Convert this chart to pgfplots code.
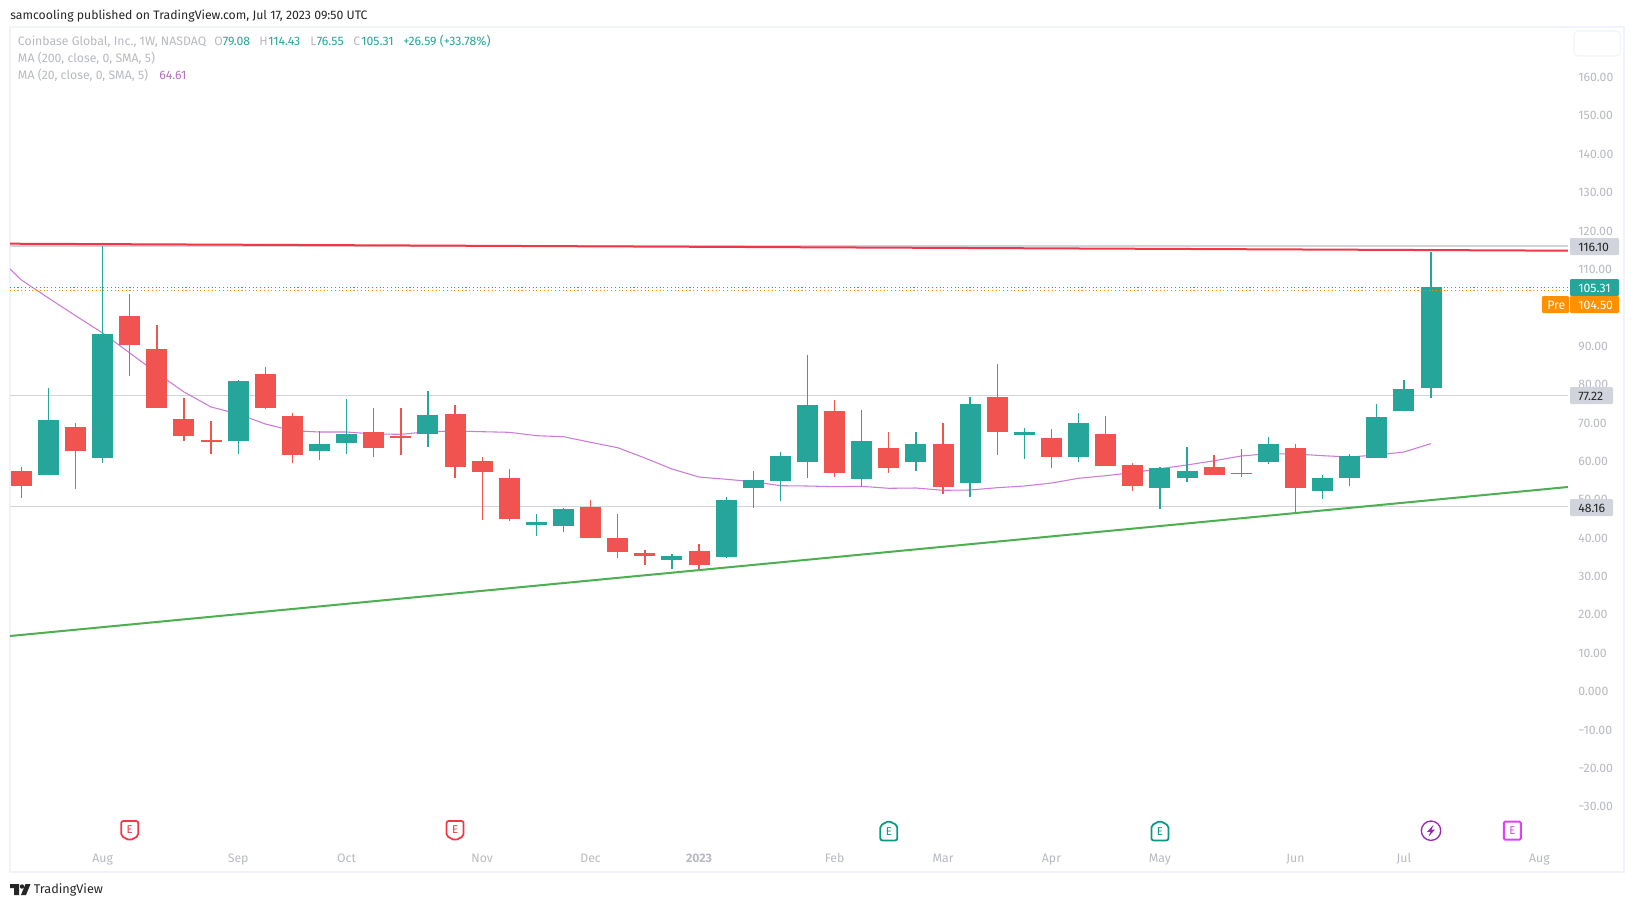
\documentclass[border=0pt]{standalone}
\usepackage{fontspec}
\setmainfont{Fira Sans}
\usepackage{pgfplots}
\usepackage{pgfplotstable}
\pgfplotsset{compat=1.18}

\definecolor{tvgreen}{HTML}{26A69A}
\definecolor{tvred}{HTML}{F05350}
\definecolor{tvtext}{HTML}{B8BAC3}
\definecolor{tvtag}{HTML}{D1D4DC}
\definecolor{tvframe}{HTML}{F0F3FA}
\definecolor{tvma}{HTML}{CB7BD8}
\definecolor{tvorange}{HTML}{FF9000}
\definecolor{trendred}{HTML}{F23645}
\definecolor{trendgreen}{HTML}{4CAF50}
\definecolor{evgreen}{HTML}{089981}
\definecolor{evpink}{HTML}{E040FB}
\definecolor{evpurple}{HTML}{9C27B0}

% i bot top lo hi
\pgfplotstableread{
i bot top lo hi
1 56.43 70.76 56.43 79.10
3 60.86 93.17 59.55 116.10
8 65.28 80.92 61.90 81.18
11 62.68 64.51 60.34 67.89
12 64.77 67.11 61.90 76.23
15 67.11 72.06 63.72 78.32
19 43.40 44.18 40.54 46.27
20 43.14 47.57 41.58 47.83
24 34.28 35.32 31.94 35.84
26 35.06 49.91 34.80 50.69
27 53.04 55.13 47.83 57.47
28 54.87 61.38 49.65 62.42
29 59.82 74.67 55.64 87.70
31 55.39 65.28 53.56 73.36
33 59.82 64.51 57.47 67.63
35 54.34 74.93 50.69 76.75
37 66.85 67.63 60.60 68.67
39 61.12 69.98 59.82 72.58
42 53.04 58.25 47.57 58.51
43 55.64 57.47 54.60 63.72
45 56.69 56.95 55.91 63.20
46 59.82 64.51 59.30 66.33
48 52.26 55.64 50.18 56.43
49 55.64 61.38 53.56 61.90
50 60.86 71.54 60.86 74.93
51 73.10 78.84 73.10 81.18
52 79.08 105.31 76.55 114.43
}\upweeks
\pgfplotstableread{
i bot top lo hi
0 53.56 57.47 50.51 58.51
2 62.68 68.93 52.86 69.98
4 90.30 97.86 82.22 103.59
5 73.89 89.26 73.89 95.51
6 66.59 71.02 65.28 76.49
7 65.03 65.55 61.90 70.50
9 73.89 82.75 73.63 84.57
10 61.64 71.80 59.55 72.58
13 63.46 67.63 61.12 73.89
14 66.07 66.59 61.64 73.89
16 58.51 72.32 55.64 74.67
17 57.21 60.08 44.70 61.12
18 44.97 55.64 44.44 57.99
21 40.01 48.09 40.01 49.91
22 36.37 40.01 34.80 46.27
23 35.32 36.11 32.98 36.89
25 32.98 36.63 31.68 38.45
30 56.95 73.10 55.91 75.97
32 58.25 63.46 56.95 67.63
34 53.30 64.51 51.48 69.98
36 67.63 76.75 61.64 85.35
38 61.12 66.07 58.25 68.41
40 58.77 67.11 58.77 71.80
41 53.56 59.03 52.26 59.55
44 56.43 58.51 56.43 61.64
47 53.04 63.46 46.53 64.51
}\downweeks
\pgfplotstableread{
i ma
-0.417 110.10
0 107.24
1 102.55
2 97.94
3 93.43
4 88.22
5 83.01
6 78.06
7 74.15
8 72.32
9 69.72
10 67.97
11 67.63
12 67.63
13 67.11
14 67.03
15 67.71
16 67.89
17 67.71
18 67.55
19 66.67
20 66.41
21 64.95
22 63.54
23 60.86
24 57.99
25 55.91
26 55.31
27 54.69
28 53.64
29 53.56
30 53.38
31 53.48
32 52.96
33 53.04
34 52.44
35 52.52
36 53.12
37 53.56
38 54.34
39 55.57
40 56.25
41 57.03
42 58.07
43 59.03
44 60.15
45 61.38
46 61.98
47 61.90
48 61.46
49 61.12
50 61.64
51 62.42
52 64.61
}\maline

\newsavebox\evredbox
\newsavebox\evgreenbox
\newsavebox\evpinkbox
\newsavebox\evboltbox

\begin{document}
\sbox\evredbox{\tikz[x=0.75pt,y=-0.75pt]{
  \path (-10.5,-10.5) rectangle (10.5,10.5);
  \draw[trendred,line width=1.3pt,rounded corners=1.5pt,line join=round] (-8.5,-9.5) -- (8.5,-9.5) -- (8.5,5.5) -- (0,10) -- (-8.5,5.5) -- cycle;
  \node[trendred,font=\fontsize{8.5}{9}\selectfont,inner sep=0pt] at (0,-1) {E};}}%
\sbox\evgreenbox{\tikz[x=0.75pt,y=-0.75pt]{
  \path (-10.5,-10.5) rectangle (10.5,10.5);
  \draw[evgreen,line width=1.3pt,rounded corners=1.5pt,line join=round] (-8.5,9.5) -- (8.5,9.5) -- (8.5,-5.5) -- (0,-10) -- (-8.5,-5.5) -- cycle;
  \node[evgreen,font=\fontsize{8.5}{9}\selectfont,inner sep=0pt] at (0,1) {E};}}%
\sbox\evpinkbox{\tikz[x=0.75pt,y=-0.75pt]{
  \path (-10.5,-10.5) rectangle (10.5,10.5);
  \draw[evpink,line width=1.5pt,rounded corners=1pt] (-8.5,-9) rectangle (8.5,9);
  \node[evpink,font=\fontsize{8.5}{9}\selectfont,inner sep=0pt] at (0,0) {E};}}%
\sbox\evboltbox{\tikz[x=0.75pt,y=-0.75pt]{
  \path (-10.5,-10.5) rectangle (10.5,10.5);
  \draw[evpurple,line width=1pt] (0,0) circle (9.7);
  \fill[evpurple] (2.5,-6) -- (-4,1.2) -- (-0.6,1.2) -- (-2.5,6) -- (4,-1.2) -- (0.6,-1.2) -- cycle;}}%
\begin{tikzpicture}
\path[use as bounding box,fill=white] (0,0) rectangle (1225.5pt,-680.25pt);
\begin{axis}[
    at={(7.5pt,-654pt)},
    anchor=south west,
    scale only axis,
    width=1210.5pt,
    height=633.75pt,
    xmin=-0.417, xmax=59.12,
    ymin=-47.01, ymax=173.15,
    axis line style={draw=tvframe,line width=1.5pt},
    tick style={draw=none},
    major tick length=0pt,
    xtick={3,8,12,17,21,25,30,34,38,42,47,51,56},
    xticklabels={Aug,Sep,Oct,Nov,Dec,\textbf{2023},Feb,Mar,Apr,May,Jun,Jul,Aug},
    xticklabel style={font=\fontsize{9.2}{10}\selectfont,text=tvtext,anchor=base,inner sep=0pt,yshift=7.5pt},
    ytick={-30,-20,...,160},
    yticklabels={−30.00,−20.00,−10.00,0.000,10.00,20.00,30.00,40.00,50.00,60.00,70.00,80.00,90.00,100.00,110.00,120.00,130.00,140.00,150.00,160.00},
    yticklabel pos=right,
    yticklabel style={font=\fontsize{9.2}{10}\selectfont,text=tvtext,anchor=west,inner sep=0pt,xshift=-34.5pt},
    wick/.style={draw=none,forget plot,error bars/.cd,y dir=plus,y explicit,error mark=none,
        error bar style={draw=#1,line width=1pt}},
    body/.style={draw=none,forget plot,error bars/.cd,y dir=plus,y explicit,error mark=none,
        error bar style={draw=#1,line width=15.75pt}},
]
% price levels behind the candles
\addplot[tvtag,line width=0.8pt,forget plot] coordinates {(-0.417,116.10) (57.05,116.10)};
\addplot[tvtag,line width=0.8pt,forget plot] coordinates {(-0.417,77.22) (57.05,77.22)};
\addplot[tvtag,line width=0.8pt,forget plot] coordinates {(-0.417,48.16) (57.05,48.16)};
\addplot[tvma,line width=0.8pt,forget plot] table[x=i,y=ma] {\maline};
% candles
\addplot[wick=tvgreen] table[x=i,y=lo,y error plus expr=\thisrow{hi}-\thisrow{lo}] {\upweeks};
\addplot[body=tvgreen] table[x=i,y=bot,y error plus expr=\thisrow{top}-\thisrow{bot}] {\upweeks};
\addplot[wick=tvred] table[x=i,y=lo,y error plus expr=\thisrow{hi}-\thisrow{lo}] {\downweeks};
\addplot[body=tvred] table[x=i,y=bot,y error plus expr=\thisrow{top}-\thisrow{bot}] {\downweeks};
% last and premarket price
\addplot[tvgreen,line width=0.8pt,dotted,forget plot] coordinates {(-0.417,105.31) (57.05,105.31)};
\addplot[tvorange,line width=0.8pt,dotted,forget plot] coordinates {(-0.417,104.50) (57.05,104.50)};
% trend lines
\addplot[trendred,line width=1.5pt,forget plot] coordinates {(-0.417,116.69) (57.05,114.87)};
\addplot[trendgreen,line width=1.5pt,forget plot] coordinates {(-0.417,14.48) (57.05,53.30)};
% earnings and dividend markers
\addplot[only marks,mark=text,text mark={\usebox\evredbox},forget plot] coordinates {(4,-36.25) (16,-36.25)};
\addplot[only marks,mark=text,text mark={\usebox\evgreenbox},forget plot] coordinates {(32,-36.25) (42,-36.25)};
\addplot[only marks,mark=text,text mark={\usebox\evboltbox},forget plot] coordinates {(52,-36.25)};
\addplot[only marks,mark=text,text mark={\usebox\evpinkbox},forget plot] coordinates {(55,-36.25)};
\end{axis}
\begin{scope}[x=0.75pt,y=-0.75pt,font=\fontsize{9.2}{10}\selectfont,every node/.style={inner sep=0pt}]
  \node[anchor=base west,text=black!85] at (10,19) {samcooling published on TradingView.com, Jul 17, 2023 09:50 UTC};
  % legend
  \node[anchor=base west,text=tvtext] at (17.7,45.5) {Coinbase Global, Inc., 1W, NASDAQ};
  \node[anchor=base west,text=tvtext] at (214,45.5) {O};
  \node[anchor=base west,text=tvgreen] at (222.5,45.5) {79.08};
  \node[anchor=base west,text=tvtext] at (259,45.5) {H};
  \node[anchor=base west,text=tvgreen] at (268,45.5) {114.43};
  \node[anchor=base west,text=tvtext] at (310,45.5) {L};
  \node[anchor=base west,text=tvgreen] at (316.5,45.5) {76.55};
  \node[anchor=base west,text=tvtext] at (353,45.5) {C};
  \node[anchor=base west,text=tvgreen] at (361,45.5) {105.31};
  \node[anchor=base west,text=tvgreen] at (403,45.5) {+26.59 (+33.78\%)};
  \node[anchor=base west,text=tvtext] at (17.7,62.5) {MA (200, close, 0, SMA, 5)};
  \node[anchor=base west,text=tvtext] at (17.7,79.5) {MA (20, close, 0, SMA, 5)};
  \node[anchor=base west,text=tvma!90!black] at (159,79.5) {64.61};
  % empty button top right
  \draw[tvframe,line width=0.8pt,rounded corners=3pt] (1574,31) rectangle (1620.5,56);
  % price tags
  \fill[tvtag,rounded corners=0.8pt] (1570,238) rectangle (1619,255);
  \node[anchor=base west,text=black!85] at (1578,251) {116.10};
  \fill[tvgreen,rounded corners=0.8pt] (1570,279) rectangle (1619,296);
  \node[anchor=base west,text=white] at (1578,292) {105.31};
  \fill[tvorange,rounded corners=0.8pt] (1570,296) rectangle (1619,313);
  \node[anchor=base west,text=white] at (1578,309) {104.50};
  \fill[tvorange,rounded corners=0.8pt] (1542,296) rectangle (1569,313);
  \node[anchor=base west,text=white] at (1547,309) {Pre};
  \fill[tvtag,rounded corners=0.8pt] (1570,387) rectangle (1613,404);
  \node[anchor=base west,text=black!85] at (1578,400) {77.22};
  \fill[tvtag,rounded corners=0.8pt] (1570,499) rectangle (1613,516);
  \node[anchor=base west,text=black!85] at (1578,512) {48.16};
  % footer logo and name
  \fill[black!85] (10,884) rectangle (19,888) (14,884) rectangle (19,895);
  \fill[black!85] (22,886.5) circle (2.2);
  \fill[black!85] (25.5,884) -- (30.5,884) -- (26,895) -- (21,895) -- cycle;
  \node[anchor=base west,text=black!85,font=\fontsize{9.5}{10}\selectfont] at (33.5,893.5) {TradingView};
\end{scope}
\end{tikzpicture}
\end{document}
